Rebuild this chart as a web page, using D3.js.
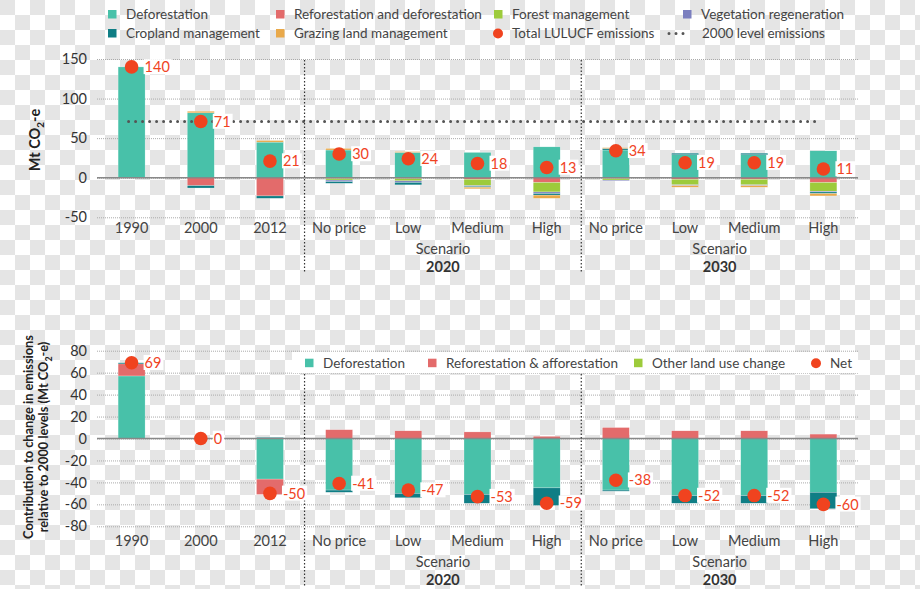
<html>
<head>
<meta charset="utf-8">
<script src="https://d3js.org/d3.v7.min.js"></script>
<style>
  body { margin: 0; }
  text { font-family: Lato, "Open Sans", sans-serif; fill: #333; }
</style>
</head>
<body>
<svg id="chart" width="920" height="589"></svg>
<script>
// categories along both charts
var categories = ["1990", "2000", "2012", "No price", "Low", "Medium", "High", "No price", "Low", "Medium", "High"];
var periods = ["", "", "", "2020", "2020", "2020", "2020", "2030", "2030", "2030", "2030"];

// top chart: Mt CO2-e by source
var deforestation = [140, 82, 45, 35, 32, 32, 39, 35, 29, 29, 34];
var reforestation = [0, -10, -23, -1, -1, -2, -6, -1, -2, -2, -6];
var forestMgmt    = [0, 0, 0, -2, -3, -8, -12, -2, -7, -7, -11];
var vegetation    = [0, 0, 0, -2, -2, -1, -2, -1, -1, -1, -1];
var cropland      = [0, -3, -3, -2, -3, -1, -2, 2, 2, 2, -2];
var grazing       = [0, 2, 2, 2, 1, -2, -4, 1, -2, -2, -3];
var totalLulucf   = [140, 71, 21, 30, 24, 18, 13, 34, 19, 19, 11];
var level2000 = 71;
var topTicks = [150, 100, 50, 0, -50];

// bottom chart: change relative to 2000
var chgDeforestation = [57, 0, -37, -47, -50, -51, -45, -47, -52, -52, -49];
var chgReforestation = [11, 0, -14, 8, 7, 6, 2, 10, 7, 7, 4];
var chgOtherLand     = [0, 0, 0, 0, 0, 0, 0, 0, 0, 0, 0];
var chgResidual      = [1, 0, 1, -2, -4, -8, -16, -1, -7, -7, -15];
var chgNet           = [69, 0, -50, -41, -47, -53, -59, -38, -52, -52, -60];
var bottomTicks = [80, 60, 40, 20, 0, -20, -40, -60, -80];

var col = {
  defor: "#48c1a9", refor: "#e36b6b", forest: "#9dcb3b", veg: "#7b7fbf",
  crop: "#0f7e85", graze: "#e9a94a", total: "#f0431f"
};
var fmt = function(d) { return String(d); };  // plain hyphen minus, as in the source

var svg = d3.select("#chart");

// transparent-png checkerboard backdrop
var defs = svg.append("defs");
var pat = defs.append("pattern").attr("id", "checker")
  .attr("width", 30).attr("height", 30).attr("patternUnits", "userSpaceOnUse");
pat.append("rect").attr("width", 30).attr("height", 30).attr("fill", "#fff");
pat.append("rect").attr("width", 15).attr("height", 15).attr("fill", "#e5e5e5");
pat.append("rect").attr("x", 15).attr("y", 15).attr("width", 15).attr("height", 15).attr("fill", "#e5e5e5");
svg.append("rect").attr("width", 920).attr("height", 589).attr("fill", "url(#checker)");

var ids = categories.map(function(c, i) { return i; });
var x = d3.scaleBand().domain(ids).range([97, 858]).paddingInner(0.61).paddingOuter(0.305);
var cx = function(i) { return x(i) + x.bandwidth() / 2; };

function drawChart(cfg) {
  var y = cfg.y;
  var g = svg.append("g");

  // gridlines
  g.append("g")
    .attr("transform", "translate(97,0)")
    .call(d3.axisLeft(y).tickValues(cfg.ticks).tickSize(-761).tickFormat(""))
    .call(function(a) {
      a.select(".domain").remove();
      a.selectAll("line").attr("stroke", "#aaa").attr("stroke-dasharray", "1,1");
    });
  // tick labels
  g.append("g")
    .attr("transform", "translate(97,0)")
    .call(d3.axisLeft(y).tickValues(cfg.ticks).tickSize(0).tickPadding(10).tickFormat(fmt))
    .call(function(a) {
      a.select(".domain").remove();
      a.selectAll("text").style("font-size", "14.5px").attr("fill", "#444");
    });

  if (cfg.legendBox) {
    g.append("rect")
      .attr("x", cfg.legendBox[0]).attr("y", cfg.legendBox[1])
      .attr("width", cfg.legendBox[2]).attr("height", cfg.legendBox[3])
      .attr("fill", "#fff");
  }

  // stacked bars
  var rows = ids.map(function(i) {
    var r = { id: i };
    cfg.keys.forEach(function(k) { r[k.name] = k.values[i]; });
    return r;
  });
  var stack = d3.stack().keys(cfg.keys.map(function(k) { return k.name; }))
    .offset(d3.stackOffsetDiverging)(rows);
  g.append("g").selectAll("g")
    .data(stack)
    .enter().append("g")
      .attr("fill", function(d, i) { return cfg.keys[i].color; })
    .selectAll("rect")
    .data(function(d) { return d; })
    .enter().append("rect")
      .attr("x", function(d) { return x(d.data.id); })
      .attr("width", x.bandwidth())
      .attr("y", function(d) { return y(Math.max(d[0], d[1])); })
      .attr("height", function(d) { return Math.abs(y(d[0]) - y(d[1])); })
      .attr("stroke", "#fff").attr("stroke-width", 0.4).attr("stroke-opacity", 0.6);

  // zero line
  g.append("line")
    .attr("x1", 97).attr("x2", 858).attr("y1", y(0)).attr("y2", y(0))
    .attr("stroke", "#888").attr("stroke-width", 1.6);

  if (cfg.level != null) {
    g.append("line")
      .attr("x1", cx(0) - 3).attr("x2", cx(10) - 4)
      .attr("y1", y(cfg.level)).attr("y2", y(cfg.level))
      .attr("stroke", "#555").attr("stroke-width", 3)
      .attr("stroke-linecap", "round").attr("stroke-dasharray", "0,7");
  }

  // period separators
  [2, 6].forEach(function(i) {
    var sx = (cx(i) + cx(i + 1)) / 2;
    g.append("line")
      .attr("x1", sx).attr("x2", sx).attr("y1", cfg.sepTop).attr("y2", cfg.sepBottom)
      .attr("stroke", "#333").attr("stroke-width", 1.2).attr("stroke-dasharray", "1.5,2");
  });

  // total / net markers
  var dots = g.append("g").selectAll("g")
    .data(cfg.totals)
    .enter().append("g")
      .attr("transform", function(d, i) { return "translate(" + cx(i) + "," + y(d) + ")"; });
  dots.append("text")
    .attr("x", 13).attr("dy", "0.36em")
    .style("font-size", "14.5px")
    .style("fill", col.total)
    .text(fmt);
  dots.each(function() {
    var t = d3.select(this).select("text");
    var b = t.node().getBBox();
    d3.select(this).insert("rect", "text")
      .attr("x", b.x - 1).attr("y", b.y + 1).attr("width", b.width + 3).attr("height", b.height - 2)
      .attr("fill", "#fff");
  });
  dots.append("circle").attr("r", 6.8).attr("fill", col.total);

  // category labels
  g.append("g").selectAll("text")
    .data(categories)
    .enter().append("text")
      .attr("x", function(d, i) { return cx(i); })
      .attr("y", cfg.catY)
      .attr("text-anchor", "middle").attr("dy", "0.35em")
      .style("font-size", "14.5px").style("fill", "#444")
      .text(function(d) { return d; });

  ["2020", "2030"].forEach(function(p) {
    var idx = ids.filter(function(i) { return periods[i] === p; });
    var mx = (cx(idx[0]) + cx(idx[idx.length - 1])) / 2;
    g.append("text").attr("x", mx).attr("y", cfg.catY + 21).attr("dy", "0.35em")
      .attr("text-anchor", "middle").style("font-size", "14.5px").style("fill", "#444")
      .text("Scenario");
    g.append("text").attr("x", mx).attr("y", cfg.catY + 39).attr("dy", "0.35em")
      .attr("text-anchor", "middle").style("font-size", "14.5px").style("font-weight", "bold")
      .text(p);
  });
}

function drawLegend(items) {
  var lg = svg.append("g").selectAll("g").data(items).enter().append("g")
    .attr("transform", function(d) { return "translate(" + d.x + "," + d.y + ")"; });
  lg.filter(function(d) { return d.type === "sq"; }).append("rect")
    .attr("y", -4).attr("width", 8.5).attr("height", 8.5).attr("fill", function(d) { return d.c; });
  lg.filter(function(d) { return d.type === "dot"; }).append("circle")
    .attr("cx", 4).attr("cy", 0.5).attr("r", 5).attr("fill", function(d) { return d.c; });
  lg.filter(function(d) { return d.type === "line"; }).append("line")
    .attr("x1", 1).attr("x2", 22).attr("y1", 0.5).attr("y2", 0.5)
    .attr("stroke", function(d) { return d.c; }).attr("stroke-width", 3)
    .attr("stroke-linecap", "round").attr("stroke-dasharray", "0,7");
  lg.append("text")
    .attr("x", function(d) { return d.type === "line" ? 34 : 18; })
    .attr("dy", "0.38em")
    .style("font-size", "13.5px").style("fill", "#444")
    .text(function(d) { return d.t; });
}

function drawTitle(lines, tx, ty, size) {
  lines.forEach(function(parts, li) {
    var t = svg.append("text")
      .attr("transform", "translate(" + (tx + li * 15) + "," + ty + ") rotate(-90)")
      .attr("text-anchor", "middle")
      .style("font-size", size + "px").style("font-weight", "bold").style("fill", "#222");
    t.append("tspan").text(parts[0]);
    t.append("tspan").attr("dy", 4).style("font-size", (size * 0.68) + "px").text("2");
    t.append("tspan").attr("dy", -4).text(parts[1]);
  });
}

// ---------- top chart ----------
var yTop = d3.scaleLinear().domain([-50, 150]).range([217.3, 59]);
drawChart({
  y: yTop, ticks: topTicks, level: level2000, totals: totalLulucf,
  sepTop: 60, sepBottom: 273, catY: 228,
  keys: [
    { name: "Deforestation", values: deforestation, color: col.defor },
    { name: "Reforestation and deforestation", values: reforestation, color: col.refor },
    { name: "Forest management", values: forestMgmt, color: col.forest },
    { name: "Vegetation regeneration", values: vegetation, color: col.veg },
    { name: "Cropland management", values: cropland, color: col.crop },
    { name: "Grazing land management", values: grazing, color: col.graze }
  ]
});
drawTitle([["Mt CO", "-e"]], 40, 140, 14.5);

drawLegend([
  { t: "Deforestation", c: col.defor, type: "sq", x: 108, y: 14 },
  { t: "Reforestation and deforestation", c: col.refor, type: "sq", x: 276, y: 14 },
  { t: "Forest management", c: col.forest, type: "sq", x: 494, y: 14 },
  { t: "Vegetation regeneration", c: col.veg, type: "sq", x: 683, y: 14 },
  { t: "Cropland management", c: col.crop, type: "sq", x: 108, y: 33 },
  { t: "Grazing land management", c: col.graze, type: "sq", x: 276, y: 33 },
  { t: "Total LULUCF emissions", c: col.total, type: "dot", x: 494, y: 33 },
  { t: "2000 level emissions", c: "#555", type: "line", x: 668, y: 33 }
]);

// ---------- bottom chart ----------
var yBot = d3.scaleLinear().domain([-80, 80]).range([526.3, 350.7]);
drawChart({
  y: yBot, ticks: bottomTicks, level: null, totals: chgNet,
  sepTop: 374, sepBottom: 586, catY: 541,
  legendBox: [292, 352, 566, 21],
  keys: [
    { name: "Deforestation", values: chgDeforestation, color: col.defor },
    { name: "Reforestation & afforestation", values: chgReforestation, color: col.refor },
    { name: "Other land use change", values: chgOtherLand, color: col.forest },
    { name: "Residual", values: chgResidual, color: col.crop }
  ]
});

drawLegend([
  { t: "Deforestation", c: col.defor, type: "sq", x: 305, y: 362.7 },
  { t: "Reforestation & afforestation", c: col.refor, type: "sq", x: 428, y: 362.7 },
  { t: "Other land use change", c: col.forest, type: "sq", x: 634, y: 362.7 },
  { t: "Net", c: col.total, type: "dot", x: 812, y: 362.7 }
]);

svg.append("text")
  .attr("transform", "translate(33,437) rotate(-90)")
  .attr("text-anchor", "middle")
  .style("font-size", "12.8px").style("font-weight", "bold").style("fill", "#222")
  .text("Contribution to change in emissions");
drawTitle([["relative to 2000 levels (Mt CO", "-e)"]], 48, 437, 12.8);
</script>
</body>
</html>
